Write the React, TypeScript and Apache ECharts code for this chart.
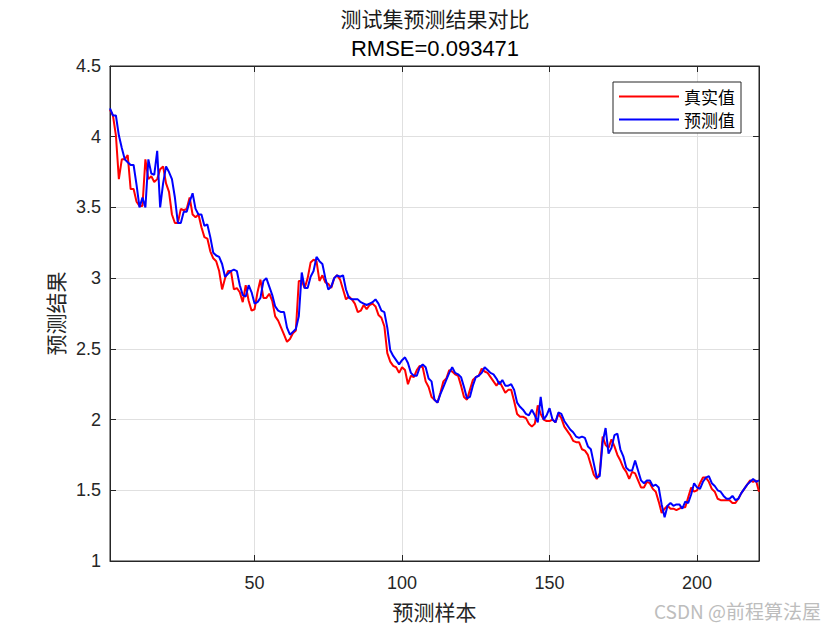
import React, { useEffect, useRef } from "react";
import * as echarts from "echarts";

const realValues = [
  4.19, 4.15, 4.01, 3.70, 3.84, 3.84, 3.87, 3.63, 3.63, 3.54,
  3.51, 3.51, 3.84, 3.70, 3.72, 3.68, 3.70, 3.77, 3.79, 3.67,
  3.61, 3.45, 3.39, 3.39, 3.49, 3.48, 3.49, 3.57, 3.45, 3.43,
  3.45, 3.36, 3.29, 3.28, 3.19, 3.14, 3.12, 3.05, 2.92, 3.00,
  3.05, 3.05, 2.92, 2.93, 2.90, 2.83, 2.95, 2.84, 2.77, 2.78,
  2.90, 2.99, 2.86, 2.86, 2.89, 2.84, 2.73, 2.70, 2.65, 2.60,
  2.55, 2.57, 2.61, 2.63, 2.98, 2.98, 2.93, 3.00, 3.11, 3.13,
  3.12, 2.98, 3.02, 2.97, 2.96, 2.93, 3.00, 3.02, 2.99, 2.92,
  2.85, 2.87, 2.85, 2.82, 2.76, 2.77, 2.81, 2.78, 2.81, 2.82,
  2.80, 2.74, 2.72, 2.66, 2.47, 2.41, 2.38, 2.37, 2.33, 2.37,
  2.35, 2.25, 2.31, 2.30, 2.35, 2.38, 2.37, 2.27, 2.23, 2.16,
  2.14, 2.12, 2.19, 2.27, 2.29, 2.35, 2.34, 2.32, 2.31, 2.24,
  2.16, 2.14, 2.21, 2.28, 2.30, 2.31, 2.36, 2.34, 2.33, 2.30,
  2.27, 2.24, 2.27, 2.23, 2.19, 2.21, 2.21, 2.13, 2.04, 2.02,
  2.02, 2.01, 1.97, 1.95, 1.97, 2.10, 2.04, 2.00, 1.99, 1.99,
  2.00, 1.98, 2.04, 2.01, 1.95, 1.92, 1.89, 1.85, 1.84, 1.84,
  1.79, 1.78, 1.75, 1.68, 1.61, 1.58, 1.62, 1.88, 1.82, 1.80,
  1.86, 1.81, 1.75, 1.71, 1.66, 1.63, 1.58, 1.63, 1.62, 1.57,
  1.52, 1.52, 1.56, 1.55, 1.51, 1.49, 1.42, 1.34, 1.37, 1.39,
  1.37, 1.37, 1.36, 1.37, 1.38, 1.38, 1.45, 1.52, 1.49, 1.50,
  1.55, 1.59, 1.59, 1.56, 1.51, 1.49, 1.44, 1.43, 1.43, 1.43,
  1.43, 1.41, 1.41, 1.44, 1.48, 1.51, 1.54, 1.57, 1.56, 1.57, 1.49,
];

const predictedValues = [
  4.20, 4.15, 4.15, 4.01, 3.92, 3.84, 3.82, 3.80, 3.80, 3.66,
  3.50, 3.57, 3.50, 3.84, 3.74, 3.73, 3.90, 3.50, 3.67, 3.79,
  3.75, 3.70, 3.57, 3.39, 3.39, 3.47, 3.47, 3.54, 3.60, 3.49,
  3.45, 3.45, 3.37, 3.38, 3.29, 3.18, 3.16, 3.15, 3.10, 3.01,
  3.03, 3.05, 3.06, 3.05, 2.95, 2.88, 2.87, 2.95, 2.90, 2.82,
  2.83, 2.86, 2.98, 3.00, 2.94, 2.88, 2.80, 2.77, 2.76, 2.76,
  2.65, 2.60, 2.62, 2.64, 2.73, 3.04, 2.93, 2.93, 3.01, 3.05,
  3.15, 3.12, 3.10, 3.00, 2.92, 2.94, 3.00, 3.02, 3.01, 3.02,
  2.92, 2.86, 2.85, 2.85, 2.85, 2.83, 2.82, 2.81, 2.82, 2.83,
  2.85, 2.82, 2.77, 2.76, 2.65, 2.49, 2.45, 2.42, 2.39, 2.42,
  2.44, 2.40, 2.33, 2.31, 2.31, 2.37, 2.39, 2.37, 2.29, 2.27,
  2.14, 2.12, 2.18, 2.23, 2.28, 2.33, 2.37, 2.33, 2.32, 2.30,
  2.23, 2.15, 2.16, 2.24, 2.30, 2.31, 2.33, 2.37, 2.35, 2.33,
  2.32, 2.29, 2.25, 2.28, 2.24, 2.24, 2.25, 2.21, 2.12, 2.09,
  2.07, 2.04, 2.03, 2.07, 2.03, 1.98, 2.16, 2.00, 2.03, 2.08,
  2.00, 1.98, 2.05, 2.04, 1.99, 1.96, 1.93, 1.91, 1.88, 1.87,
  1.88, 1.87, 1.81, 1.79, 1.69, 1.59, 1.60, 1.84, 1.94, 1.76,
  1.80, 1.89, 1.90, 1.79, 1.74, 1.66, 1.64, 1.64, 1.71, 1.64,
  1.57, 1.55, 1.57, 1.57, 1.53, 1.54, 1.52, 1.40, 1.31, 1.39,
  1.41, 1.39, 1.40, 1.40, 1.37, 1.42, 1.41, 1.47, 1.55, 1.52,
  1.51, 1.56, 1.59, 1.60, 1.55, 1.53, 1.50, 1.49, 1.46, 1.44,
  1.44, 1.46, 1.43, 1.44, 1.48, 1.51, 1.54, 1.56, 1.58, 1.56, 1.57,
];

const seriesNames = ["真实值", "预测值"];
const titleLine1 = "测试集预测结果对比";
const titleLine2 = "RMSE=0.093471";
const xName = "预测样本";
const yName = "预测结果";
const watermark = "CSDN @前程算法屋";

export default function App() {
  const ref = useRef<HTMLDivElement>(null);
  useEffect(() => {
    if (!ref.current) return;
    const chart = echarts.init(ref.current, undefined, { renderer: "svg" });
    const n = realValues.length;
    const realData = realValues.map((v, i) => [i + 1, v]);
    const predData = predictedValues.map((v, i) => [i + 1, v]);
    const axisColor = "#262626";
    const labelFont = "Liberation Sans, Arial, sans-serif";
    const cjkFont = "Noto Sans CJK SC, sans-serif";
    chart.setOption({
      animation: false,
      backgroundColor: "#ffffff",
      grid: { left: 110, right: 81, top: 66, bottom: 69, show: true, borderColor: axisColor, borderWidth: 1, backgroundColor: "#ffffff" },
      legend: {
        data: seriesNames,
        orient: "vertical",
        right: 99,
        top: 82,
        backgroundColor: "#ffffff",
        borderColor: axisColor,
        borderWidth: 1,
        borderRadius: 0,
        padding: [6, 6, 5, 6],
        itemGap: 6,
        itemWidth: 60,
        itemHeight: 2,
        icon: "rect",
        textStyle: { fontFamily: cjkFont, fontSize: 17, color: "#000" },
      },
      xAxis: [
        {
          type: "value",
          min: 1,
          max: n,
          name: xName,
          nameLocation: "middle",
          nameGap: 39,
          nameTextStyle: { fontFamily: cjkFont, fontSize: 21, color: "#262626" },
          axisLine: { show: true, lineStyle: { color: axisColor } },
          axisTick: { show: true, inside: true, length: 6, lineStyle: { color: axisColor } },
          axisLabel: { showMinLabel: false, showMaxLabel: false, fontFamily: labelFont, fontSize: 18, color: "#262626", margin: 13 },
          splitLine: { show: true, lineStyle: { color: "#e0e0e0" } },
        },
        {
          type: "value",
          position: "top",
          min: 1,
          max: n,
          axisLine: { show: true, lineStyle: { color: axisColor } },
          axisTick: { show: true, inside: true, length: 6, lineStyle: { color: axisColor } },
          axisLabel: { show: false },
          splitLine: { show: false },
        },
      ],
      yAxis: [
        {
          type: "value",
          min: 1,
          max: 4.5,
          interval: 0.5,
          name: yName,
          nameLocation: "middle",
          nameGap: 44,
          nameTextStyle: { fontFamily: cjkFont, fontSize: 21, color: "#262626" },
          axisLine: { show: true, lineStyle: { color: axisColor } },
          axisTick: { show: true, inside: true, length: 6, lineStyle: { color: axisColor } },
          axisLabel: { fontFamily: labelFont, fontSize: 18, color: "#262626", margin: 9 },
          splitLine: { show: true, lineStyle: { color: "#e0e0e0" } },
        },
        {
          type: "value",
          position: "right",
          min: 1,
          max: 4.5,
          interval: 0.5,
          axisLine: { show: true, lineStyle: { color: axisColor } },
          axisTick: { show: true, inside: true, length: 6, lineStyle: { color: axisColor } },
          axisLabel: { show: false },
          splitLine: { show: false },
        },
      ],
      series: [
        {
          name: seriesNames[0],
          type: "line",
          data: realData,
          showSymbol: false,
          symbol: "none",
          lineStyle: { color: "#ff0000", width: 2 },
          itemStyle: { color: "#ff0000" },
        },
        {
          name: seriesNames[1],
          type: "line",
          data: predData,
          showSymbol: false,
          symbol: "none",
          lineStyle: { color: "#0000ff", width: 2 },
          itemStyle: { color: "#0000ff" },
        },
      ],
      graphic: [
        {
          type: "text",
          x: 435,
          y: 18,
          style: { text: titleLine1, font: "21px Noto Sans CJK SC, sans-serif", fill: "#1a1a1a", align: "center", verticalAlign: "middle" },
        },
        {
          type: "text",
          x: 435,
          y: 48,
          style: { text: titleLine2, font: "22px Liberation Sans, Arial, sans-serif", fill: "#000", align: "center", verticalAlign: "middle" },
        },
        {
          type: "text",
          x: 821,
          y: 610,
          style: { text: watermark, font: "19px Noto Sans CJK SC, sans-serif", fill: "#bdbdbd", align: "right", verticalAlign: "middle" },
        },
      ],
    });
    return () => chart.dispose();
  }, []);
  return <div ref={ref} style={{ width: 840, height: 630, position: "absolute", left: 0, top: 0 }} />;
}
